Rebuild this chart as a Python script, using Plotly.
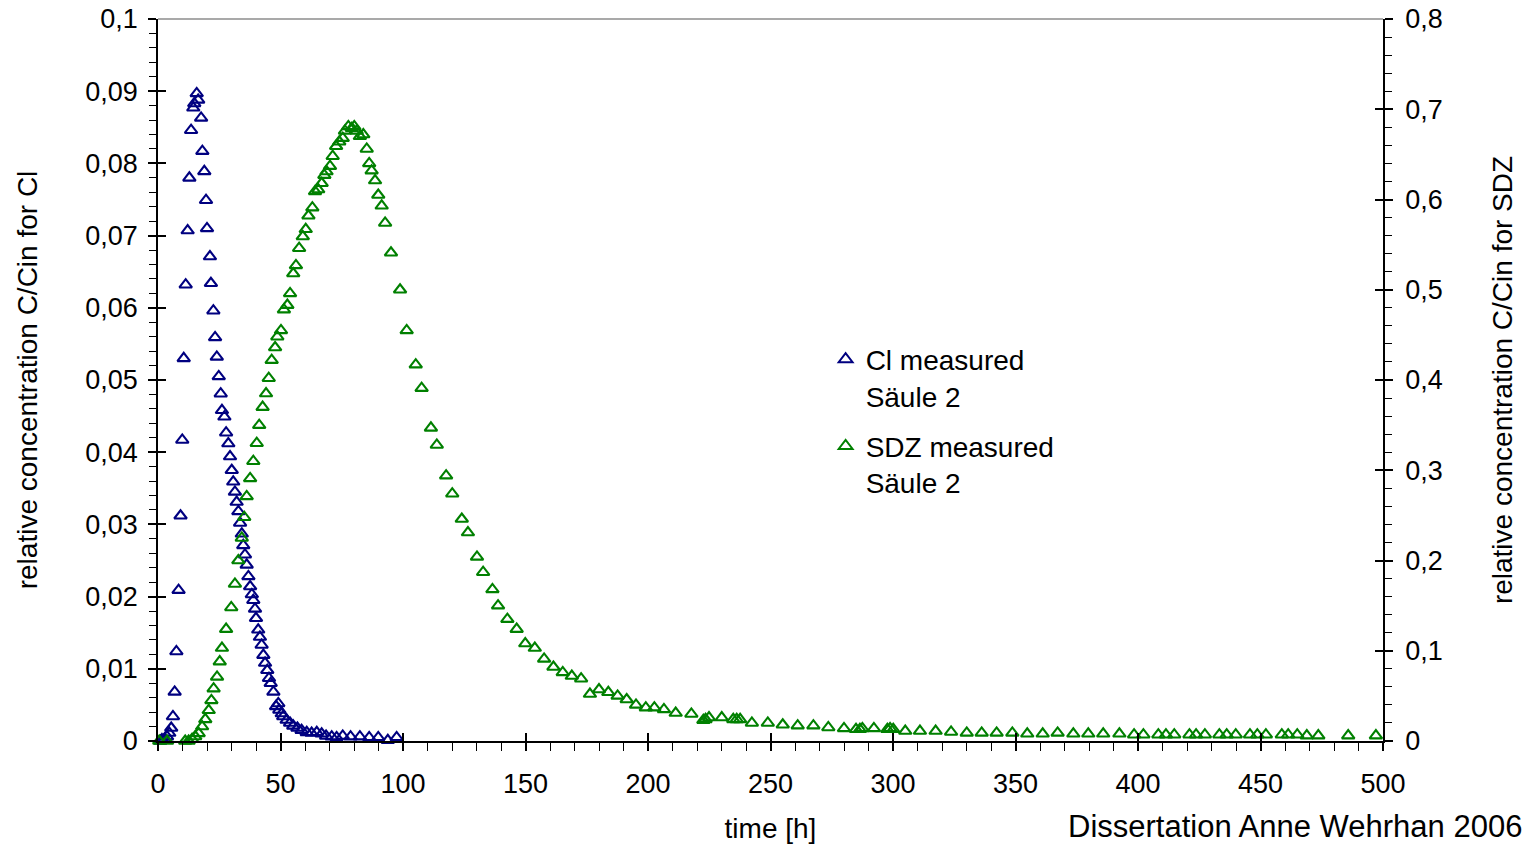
import plotly.graph_objects as go

# Chloride breakthrough (left axis, C/Cin)
cl_time = [1.0, 1.6, 2.7, 3.7, 4.6, 5.4, 6.1, 6.8, 7.5, 8.4, 9.2, 9.9, 10.5, 11.3, 12.1,
           12.8, 13.5, 14.4, 14.8, 15.8, 16.4, 17.6, 18.1, 18.9, 19.6, 20.0, 21.2, 21.6,
           22.6, 23.3, 24.0, 24.8, 25.6, 26.1, 27.1, 27.8, 28.7, 29.4, 30.1, 30.7, 31.4,
           32.1, 32.8, 33.5, 34.2, 34.8, 35.5, 36.2, 36.9, 37.6, 38.3, 38.9, 39.6, 40.0,
           40.9, 41.6, 42.3, 43.0, 43.7, 44.6, 45.3, 46.0, 47.1, 48.2, 49.1, 49.5, 50.5,
           51.1, 52.5, 53.9, 55.2, 56.9, 58.6, 60.7, 62.7, 64.8, 66.8, 68.6, 70.9, 72.9,
           75.4, 78.6, 82.4, 86.2, 89.9, 93.8, 97.4]
cl_conc = [0.0, 0.0002, 0.0003, 0.0006, 0.0011, 0.0018, 0.0034, 0.0068, 0.0124, 0.0209,
           0.0312, 0.0417, 0.0530, 0.0632, 0.0707, 0.0780, 0.0846, 0.0877, 0.0883, 0.0897,
           0.0888, 0.0863, 0.0817, 0.0789, 0.0749, 0.0710, 0.0671, 0.0634, 0.0596, 0.0559,
           0.0532, 0.0505, 0.0481, 0.0458, 0.0449, 0.0427, 0.0412, 0.0394, 0.0375, 0.0359,
           0.0345, 0.0331, 0.0318, 0.0302, 0.0287, 0.0271, 0.0258, 0.0244, 0.0228, 0.0214,
           0.0203, 0.0195, 0.0183, 0.0170, 0.0154, 0.0144, 0.0133, 0.0119, 0.0108, 0.0098,
           0.0087, 0.0080, 0.0068, 0.0048, 0.0052, 0.0043, 0.0038, 0.0034, 0.0029, 0.0025,
           0.0021, 0.0018, 0.0015, 0.0012, 0.0011, 0.0012, 0.0010, 0.0007, 0.0006, 0.0005,
           0.0007, 0.0006, 0.0006, 0.0005, 0.0005, 0.0001, 0.0005]

# Sulfadiazine breakthrough (right axis, C/Cin)
sdz_time = [0.5, 3.7, 11.1, 12.5, 13.9, 15.2, 16.6, 18.0, 19.3, 20.7, 21.8, 22.7, 24.1,
            25.2, 26.1, 27.8, 29.9, 31.4, 32.8, 34.2, 35.2, 36.2, 37.6, 38.9, 40.3, 41.3,
            42.7, 44.1, 45.2, 46.4, 47.8, 48.7, 50.2, 51.4, 52.8, 53.9, 55.2, 56.3, 57.6,
            59.1, 60.3, 61.4, 63.0, 64.1, 65.4, 66.8, 67.9, 68.8, 70.2, 71.3, 72.7, 74.0,
            75.4, 76.3, 77.7, 79.1, 80.1, 81.1, 82.4, 83.8, 85.2, 86.2, 87.2, 88.6, 89.9,
            91.3, 92.7, 95.1, 98.8, 101.5, 105.2, 107.6, 111.4, 113.8, 117.6, 120.1, 124.0,
            126.5, 130.2, 132.7, 136.5, 138.8, 142.6, 146.4, 149.9, 153.8, 157.6, 161.4,
            165.2, 168.9, 172.7, 176.3, 180.0, 183.8, 187.6, 191.3, 195.1, 199.1, 202.6,
            206.5, 211.3, 217.7, 222.6, 223.5, 224.9, 230.1, 234.8, 236.2, 237.6, 242.4,
            248.9, 255.0, 261.1, 267.5, 273.6, 280.0, 284.9, 286.5, 287.5, 292.2, 297.7,
            298.8, 300.1, 305.0, 311.0, 317.4, 323.7, 330.1, 336.2, 342.3, 348.7, 354.8,
            361.1, 367.2, 373.6, 379.7, 385.8, 392.4, 398.4, 402.2, 408.3, 411.4, 414.8,
            421.0, 423.7, 427.3, 433.2, 436.2, 439.9, 445.7, 448.7, 452.2, 458.7, 461.3,
            465.0, 468.9, 473.6, 485.8, 497.1]
sdz_conc = [0.0, 0.0, 0.0, 0.0, 0.002, 0.005, 0.0085, 0.016, 0.024, 0.034, 0.045, 0.058,
            0.071, 0.088, 0.103, 0.124, 0.148, 0.174, 0.200, 0.225, 0.248, 0.271, 0.291,
            0.310, 0.330, 0.350, 0.370, 0.385, 0.402, 0.422, 0.436, 0.448, 0.455, 0.478,
            0.483, 0.496, 0.518, 0.527, 0.546, 0.559, 0.567, 0.582, 0.591, 0.609, 0.611,
            0.618, 0.627, 0.631, 0.637, 0.648, 0.659, 0.664, 0.668, 0.676, 0.681, 0.679,
            0.681, 0.676, 0.670, 0.672, 0.656, 0.640, 0.632, 0.621, 0.605, 0.593, 0.574,
            0.541, 0.500, 0.455, 0.417, 0.391, 0.347, 0.328, 0.294, 0.274, 0.246, 0.231,
            0.204, 0.187, 0.168, 0.150, 0.135, 0.124, 0.108, 0.103, 0.091, 0.082, 0.076,
            0.072, 0.069, 0.052, 0.057, 0.054, 0.050, 0.046, 0.040, 0.037, 0.037, 0.035,
            0.031, 0.030, 0.023, 0.024, 0.026, 0.026, 0.024, 0.024, 0.024, 0.020, 0.020,
            0.018, 0.017, 0.017, 0.015, 0.014, 0.013, 0.013, 0.014, 0.014, 0.013, 0.014,
            0.013, 0.011, 0.011, 0.011, 0.010, 0.009, 0.009, 0.009, 0.009, 0.008, 0.008,
            0.009, 0.008, 0.008, 0.008, 0.008, 0.007, 0.007, 0.007, 0.007, 0.007, 0.007,
            0.007, 0.007, 0.007, 0.007, 0.007, 0.007, 0.007, 0.007, 0.007, 0.007, 0.007,
            0.006, 0.006, 0.006, 0.006]

x_ticks = [0, 50, 100, 150, 200, 250, 300, 350, 400, 450, 500]

FONT = "Liberation Sans, Arial, sans-serif"
BLUE = "#000080"
GREEN = "#008000"
AX = "black"

fig = go.Figure()

fig.add_trace(go.Scatter(
    x=cl_time, y=cl_conc, mode="markers", name="Cl measured<br>Säule 2",
    legendgroup="cl", cliponaxis=False,
    marker=dict(symbol="triangle-up-open", size=11, color=BLUE, line=dict(width=2.1, color=BLUE)),
    xaxis="x", yaxis="y"))
fig.add_trace(go.Scatter(
    x=sdz_time, y=sdz_conc, mode="markers", name="SDZ measured<br>Säule 2",
    legendgroup="sdz", cliponaxis=False,
    marker=dict(symbol="triangle-up-open", size=11, color=GREEN, line=dict(width=2.1, color=GREEN)),
    xaxis="x", yaxis="y2"))

# empty helpers so the inner halves of the major ticks get drawn
fig.add_trace(go.Scatter(x=[], y=[], xaxis="x2", yaxis="y3", showlegend=False, hoverinfo="skip"))
fig.add_trace(go.Scatter(x=[], y=[], xaxis="x2", yaxis="y4", showlegend=False, hoverinfo="skip"))

tick_font = dict(family=FONT, size=27, color="black")
title_font = dict(family=FONT, size=28, color="black")

fig.update_layout(
    width=1533, height=847,
    margin=dict(l=158, r=150, t=19, b=106, autoexpand=False),
    paper_bgcolor="white", plot_bgcolor="white",
    separators=", ",
    font=dict(family=FONT, size=27, color="black"),
    xaxis=dict(
        range=[0, 500], tickvals=x_ticks, ticks="outside", ticklen=8, tickwidth=1.5,
        tickcolor=AX, showline=True, linecolor=AX, linewidth=1.5, showgrid=False,
        zeroline=False, tickfont=tick_font, ticklabelstandoff=10, automargin=False,
        minor=dict(dtick=10, ticks="outside", ticklen=8, tickwidth=1.2, tickcolor=AX, showgrid=False),
        title=dict(text="time [h]", font=title_font, standoff=20)),
    xaxis2=dict(
        range=[0, 500], overlaying="x", anchor="y", side="bottom", tickvals=x_ticks,
        ticks="inside", ticklen=8, tickwidth=1.5, tickcolor=AX, showticklabels=False,
        showline=False, showgrid=False, zeroline=False, automargin=False),
    yaxis=dict(
        range=[0, 0.1], dtick=0.01, tick0=0, ticks="outside", ticklen=8, tickwidth=1.5,
        tickcolor=AX, showline=True, linecolor=AX, linewidth=1.5, showgrid=False,
        zeroline=False, tickfont=tick_font, ticklabelstandoff=5, automargin=False,
        minor=dict(dtick=0.002, ticks="outside", ticklen=7, tickwidth=1.2, tickcolor=AX, showgrid=False),
        title=dict(text="relative concentration C/Cin for Cl", font=title_font, standoff=39)),
    yaxis2=dict(
        range=[0, 0.8], dtick=0.1, tick0=0, overlaying="y", side="right", anchor="x",
        ticks="outside", ticklen=8, tickwidth=1.5, tickcolor=AX, showline=True,
        linecolor=AX, linewidth=1.5, showgrid=False, zeroline=False, tickfont=tick_font,
        ticklabelstandoff=7, automargin=False,
        minor=dict(dtick=0.02, ticks="outside", ticklen=7, tickwidth=1.2, tickcolor=AX, showgrid=False),
        title=dict(text="relative concentration C/Cin for SDZ", font=title_font, standoff=51)),
    yaxis3=dict(
        range=[0, 0.1], dtick=0.01, tick0=0, overlaying="y", side="left", anchor="x",
        ticks="inside", ticklen=8, tickwidth=1.5, tickcolor=AX, showticklabels=False,
        showline=False, showgrid=False, zeroline=False, automargin=False),
    yaxis4=dict(
        range=[0, 0.8], dtick=0.1, tick0=0, overlaying="y", side="right", anchor="x",
        ticks="inside", ticklen=8, tickwidth=1.5, tickcolor=AX, showticklabels=False,
        showline=False, showgrid=False, zeroline=False, automargin=False),
    legend=dict(
        x=0.545, y=0.563, xanchor="left", yanchor="top", valign="top",
        traceorder="grouped", tracegroupgap=11, bgcolor="rgba(0,0,0,0)",
        itemsizing="constant",
        font=dict(family=FONT, size=28, color="black")),
    shapes=[dict(type="line", xref="paper", yref="paper", x0=0, x1=1, y0=1, y1=1,
                 line=dict(color="#8c8c8c", width=1.5))],
    annotations=[dict(
        text="Dissertation Anne Wehrhan 2006", xref="paper", yref="paper",
        x=1.1143, y=-0.118, xanchor="right", yanchor="middle", showarrow=False,
        borderpad=0, font=dict(family=FONT, size=31, color="black"))],
)

fig.write_html("out.html")
